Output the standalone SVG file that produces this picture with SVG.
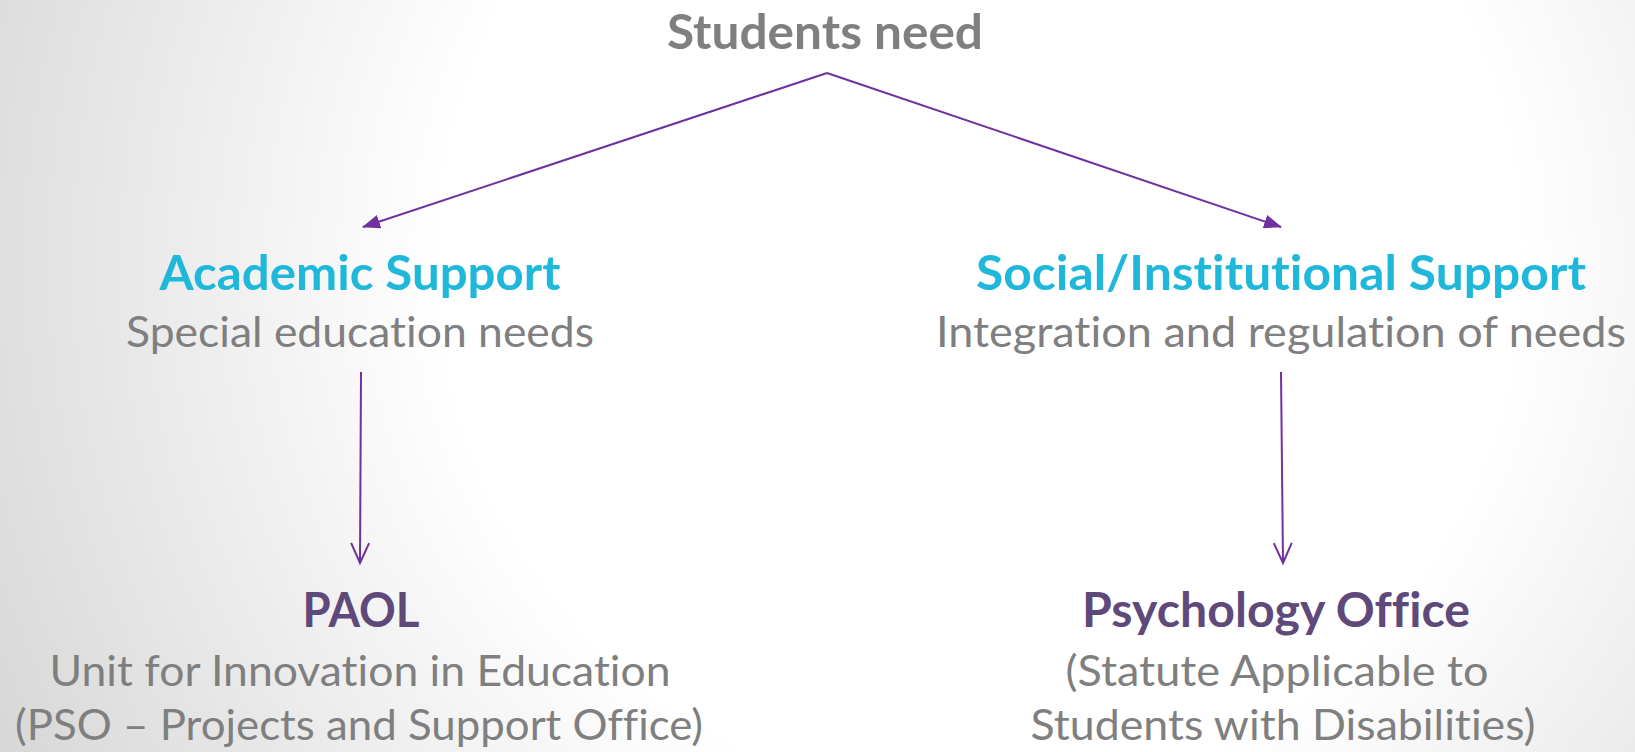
<svg xmlns="http://www.w3.org/2000/svg" width="1635" height="752" viewBox="0 0 1635 752">
  <defs>
    <radialGradient id="bg" cx="980" cy="260" r="1080" gradientUnits="userSpaceOnUse">
      <stop offset="0" stop-color="#ffffff"/>
      <stop offset="0.5" stop-color="#ffffff"/>
      <stop offset="1" stop-color="#d8d8d8"/>
    </radialGradient>
    <marker id="filled" viewBox="0 0 18 14" refX="17" refY="7" markerWidth="18" markerHeight="14" markerUnits="userSpaceOnUse" orient="auto">
      <path d="M0,0 L18,7 L0,14 z" fill="#7030A0"/>
    </marker>
    <marker id="open" viewBox="-2 -2 24 22" refX="20" refY="9" markerWidth="24" markerHeight="22" markerUnits="userSpaceOnUse" orient="auto" overflow="visible">
      <path d="M0,0 L20,9 L0,18" fill="none" stroke="#7030A0" stroke-width="2"/>
    </marker>
  </defs>
  <style>
    text { font-family: Lato, "Liberation Sans", sans-serif; text-anchor: middle; font-variant-ligatures: none; font-feature-settings: "liga" 0, "clig" 0; }
    .title { font-weight: bold; font-size: 47px; fill: #7F7F7F; }
    .head { font-weight: bold; font-size: 47px; fill: #1FB8DA; }
    .office { font-weight: bold; font-size: 47px; fill: #5F497A; }
    .sub { font-size: 43px; fill: #7F7F7F; }
    .conn { stroke: #7030A0; stroke-width: 2; fill: none; }
  </style>
  <rect width="1635" height="752" fill="url(#bg)"/>

  <g id="connectors">
    <line class="conn" x1="827" y1="73" x2="363" y2="227" marker-end="url(#filled)"/>
    <line class="conn" x1="827" y1="73" x2="1281" y2="227" marker-end="url(#filled)"/>
    <line class="conn" x1="361" y1="372" x2="360" y2="563" marker-end="url(#open)"/>
    <line class="conn" x1="1281" y1="372" x2="1283" y2="563" marker-end="url(#open)"/>
  </g>

  <g id="students-need">
    <text class="title" x="825" y="49" textLength="316" lengthAdjust="spacingAndGlyphs">Students need</text>
  </g>

  <g id="academic-support">
    <text class="head" x="360" y="290" textLength="401" lengthAdjust="spacingAndGlyphs">Academic Support</text>
    <text class="sub" x="360" y="347" textLength="468" lengthAdjust="spacingAndGlyphs">Special education needs</text>
  </g>

  <g id="social-support">
    <text class="head" x="1281" y="290" textLength="610" lengthAdjust="spacingAndGlyphs">Social/Institutional Support</text>
    <text class="sub" x="1281" y="347" textLength="690" lengthAdjust="spacingAndGlyphs">Integration and regulation of needs</text>
  </g>

  <g id="paol">
    <text class="office" x="361" y="627" textLength="117" lengthAdjust="spacingAndGlyphs">PAOL</text>
    <text class="sub" x="360" y="686" textLength="621" lengthAdjust="spacingAndGlyphs">Unit for Innovation in Education</text>
    <text class="sub" x="359" y="740" textLength="688" lengthAdjust="spacingAndGlyphs">(PSO – Projects and Support Office)</text>
  </g>

  <g id="psychology-office">
    <text class="office" x="1276" y="627" textLength="388" lengthAdjust="spacingAndGlyphs">Psychology Office</text>
    <text class="sub" x="1277" y="686" textLength="423" lengthAdjust="spacingAndGlyphs">(Statute Applicable to</text>
    <text class="sub" x="1283" y="740" textLength="505" lengthAdjust="spacingAndGlyphs">Students with Disabilities)</text>
  </g>
</svg>
